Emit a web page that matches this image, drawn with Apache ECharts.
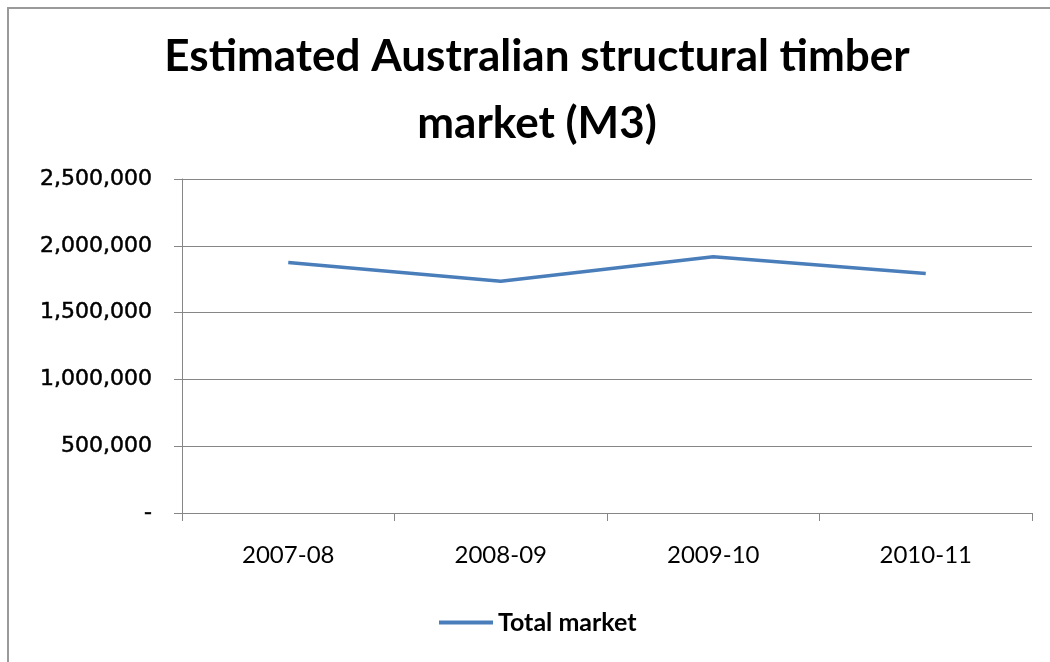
<!DOCTYPE html>
<html>
<head>
<meta charset="utf-8">
<script src="https://cdn.jsdelivr.net/npm/echarts@6/dist/echarts.min.js"></script>
<style>
  html, body { margin: 0; padding: 0; background: #ffffff; }
  #chart { width: 1050px; height: 662px; }
</style>
</head>
<body>
<div id="chart"></div>
<script>
// Financial years on the category axis
const years = ['2007-08', '2008-09', '2009-10', '2010-11'];
// Total structural timber market, cubic metres
const totalMarket = [1875000, 1734000, 1918000, 1793000];
// Value axis range
const yMin = 0;
const yMax = 2500000;
const yStep = 500000;

const chart = echarts.init(document.getElementById('chart'), null, { renderer: 'canvas' });

const axisGrey = '#868686';

chart.setOption({
  backgroundColor: '#ffffff',
  animation: false,
  graphic: [{
    type: 'rect',
    shape: { x: 8, y: 8, width: 1100, height: 720 },
    style: { fill: 'none', stroke: '#9a9a9a', lineWidth: 2 },
    silent: true
  }],
  title: {
    text: 'Estimated Australian structural timber\nmarket (M3)',
    left: 532,
    top: 18,
    textAlign: 'center',
    textStyle: {
      fontFamily: 'Lato',
      fontWeight: 'bold',
      fontSize: 44,
      lineHeight: 67,
      color: '#000000'
    }
  },
  legend: {
    left: 439,
    top: 610,
    padding: 0,
    icon: 'rect',
    itemWidth: 54,
    itemHeight: 4,
    textStyle: {
      fontFamily: 'Lato',
      fontWeight: 'bold',
      fontSize: 25,
      color: '#000000'
    },
    data: ['Total market']
  },
  grid: {
    left: 182,
    right: 18,
    top: 179,
    bottom: 149,
    containLabel: false
  },
  xAxis: {
    type: 'category',
    data: years,
    boundaryGap: true,
    axisLine: { show: true, lineStyle: { color: axisGrey, width: 1 } },
    axisTick: { show: true, length: 8, alignWithLabel: false, lineStyle: { color: axisGrey } },
    axisLabel: {
      margin: 30,
      fontFamily: 'Lato',
      fontSize: 24,
      color: '#000000'
    },
    splitLine: { show: false }
  },
  yAxis: {
    type: 'value',
    min: yMin,
    max: yMax,
    interval: yStep,
    axisLine: { show: true, lineStyle: { color: axisGrey, width: 1 } },
    axisTick: { show: true, length: 8, lineStyle: { color: axisGrey } },
    axisLabel: {
      margin: 30,
      fontFamily: 'DejaVu Sans',
      fontSize: 22,
      color: '#000000',
      textBorderColor: '#000000',
      textBorderWidth: 0.5,
      formatter: function (v) {
        return v === 0 ? '-' : v.toLocaleString('en-US');
      }
    },
    splitLine: { show: true, lineStyle: { color: axisGrey, width: 1 } }
  },
  series: [{
    name: 'Total market',
    type: 'line',
    data: totalMarket,
    symbol: 'none',
    lineStyle: { color: '#4a7ebb', width: 3.5 },
    itemStyle: { color: '#4a7ebb' }
  }]
});
</script>
</body>
</html>
